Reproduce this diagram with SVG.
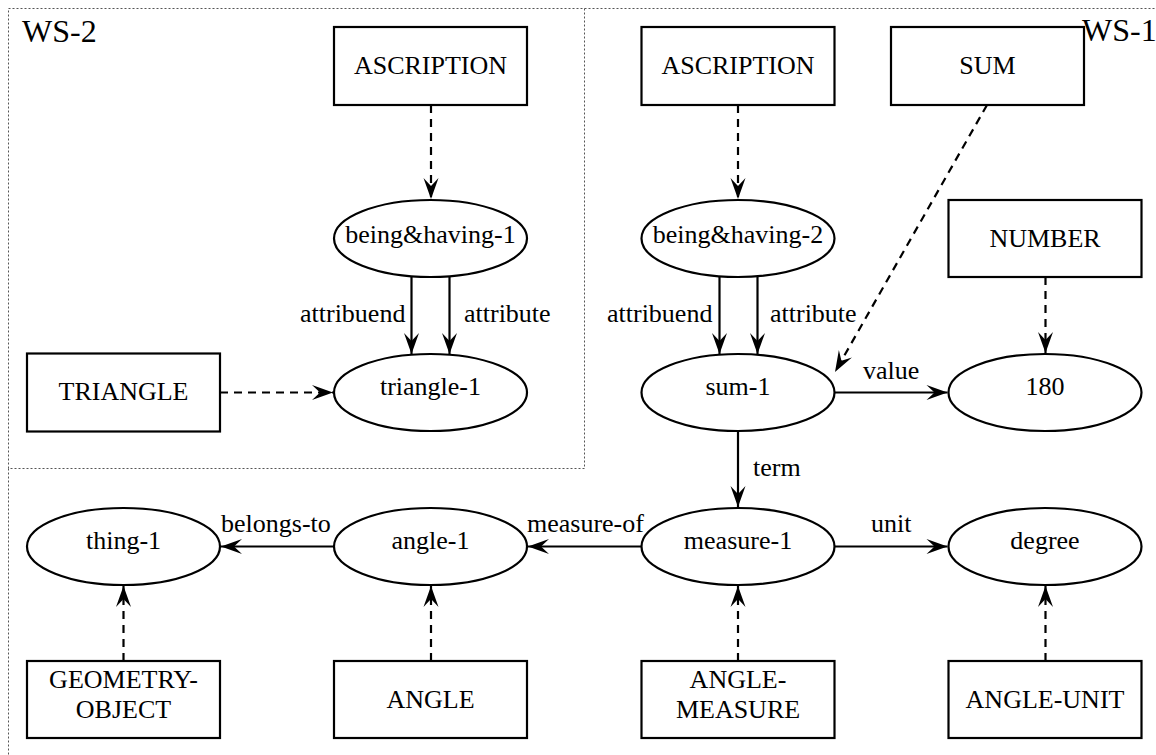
<svg xmlns="http://www.w3.org/2000/svg" width="1156" height="755" viewBox="0 0 1156 755">
<style>
text{font-family:"Liberation Serif","Times New Roman",serif;font-size:26px;fill:#000}
.c{text-anchor:middle}
.ws{font-size:32px}
.n{fill:#fff;stroke:#000;stroke-width:2.2}
.e{fill:none;stroke:#000;stroke-width:2.2}
.solid{marker-end:url(#ah)}
.dash{stroke-dasharray:8,6;marker-end:url(#ah)}
.frame{fill:none;stroke:#555;stroke-width:1;stroke-dasharray:2,2}
</style>
<defs>
<marker id="ah" viewBox="-22 -9 24 18" refX="0" refY="0" markerWidth="24" markerHeight="18" markerUnits="userSpaceOnUse" orient="auto">
<path d="M0,0 L-21,-7.5 L-13,0 L-21,7.5 Z" fill="#000"/>
</marker>
</defs>
<rect width="1156" height="755" fill="#fff"/>
<g id="frames">
<rect class="frame" x="8.5" y="8.5" width="576" height="460"/>
<path class="frame" d="M584.5,8.5 H1160 M8.5,468.5 V760"/>
<text class="ws" x="22" y="42">WS-2</text>
</g>
<g id="connectors">
<line class="e dash" x1="431" y1="105" x2="431" y2="199"/>
<line class="e solid" x1="411.5" y1="276" x2="411.5" y2="354"/>
<line class="e solid" x1="449.5" y1="276" x2="449.5" y2="354"/>
<line class="e dash" x1="220" y1="392.5" x2="333" y2="392.5"/>
<line class="e dash" x1="738" y1="105" x2="738" y2="199"/>
<line class="e solid" x1="719.5" y1="276" x2="719.5" y2="354"/>
<line class="e solid" x1="757.5" y1="276" x2="757.5" y2="354"/>
<line class="e dash" x1="987" y1="105" x2="835" y2="372"/>
<line class="e dash" x1="1045.5" y1="277" x2="1045.5" y2="353"/>
<line class="e solid" x1="834" y1="392.5" x2="947.5" y2="392.5"/>
<line class="e solid" x1="738" y1="431" x2="738" y2="507"/>
<line class="e solid" x1="641" y1="546.5" x2="528" y2="546.5"/>
<line class="e solid" x1="334" y1="546.5" x2="221" y2="546.5"/>
<line class="e solid" x1="834" y1="546.5" x2="947.5" y2="546.5"/>
<line class="e dash" x1="123.5" y1="661" x2="123.5" y2="586"/>
<line class="e dash" x1="431" y1="661" x2="431" y2="586"/>
<line class="e dash" x1="738" y1="661" x2="738" y2="586"/>
<line class="e dash" x1="1045.5" y1="661" x2="1045.5" y2="586"/>
<text x="300" y="322">attribuend</text>
<text x="464" y="322">attribute</text>
<text x="607" y="322">attribuend</text>
<text x="770" y="322">attribute</text>
<text x="863" y="379">value</text>
<text x="753" y="476">term</text>
<text x="221" y="532">belongs-to</text>
<text x="527" y="532">measure-of</text>
<text x="871" y="532">unit</text>
</g>
<g id="ascription-2"><rect class="n" x="334" y="27" width="193" height="78"/><text class="c" x="430.5" y="74">ASCRIPTION</text></g>
<g id="being-having-1"><ellipse class="n" cx="430.5" cy="238.5" rx="96.5" ry="38.5"/><text class="c" x="430.5" y="243">being&amp;having-1</text></g>
<g id="triangle-1"><ellipse class="n" cx="430.5" cy="392.5" rx="96.5" ry="38.5"/><text class="c" x="430.5" y="395">triangle-1</text></g>
<g id="TRIANGLE"><rect class="n" x="27" y="353.5" width="193" height="78"/><text class="c" x="123.5" y="400">TRIANGLE</text></g>
<g id="ascription-1"><rect class="n" x="641.5" y="27" width="193" height="78"/><text class="c" x="738" y="74">ASCRIPTION</text></g>
<g id="SUM"><rect class="n" x="891" y="27" width="193" height="78"/><text class="c" x="987.5" y="74">SUM</text></g>
<g id="being-having-2"><ellipse class="n" cx="738" cy="238.5" rx="96.5" ry="38.5"/><text class="c" x="738" y="243">being&amp;having-2</text></g>
<g id="NUMBER"><rect class="n" x="948.5" y="200" width="193" height="77"/><text class="c" x="1045" y="247">NUMBER</text></g>
<g id="sum-1"><ellipse class="n" cx="738" cy="392.5" rx="96.5" ry="38.5"/><text class="c" x="738" y="395">sum-1</text></g>
<g id="n180"><ellipse class="n" cx="1045" cy="392.5" rx="96.5" ry="38.5"/><text class="c" x="1045" y="395">180</text></g>
<g id="thing-1"><ellipse class="n" cx="123.5" cy="546.5" rx="96.5" ry="38.5"/><text class="c" x="123.5" y="549">thing-1</text></g>
<g id="angle-1"><ellipse class="n" cx="430.5" cy="546.5" rx="96.5" ry="38.5"/><text class="c" x="430.5" y="549">angle-1</text></g>
<g id="measure-1"><ellipse class="n" cx="738" cy="546.5" rx="96.5" ry="38.5"/><text class="c" x="738" y="549">measure-1</text></g>
<g id="degree"><ellipse class="n" cx="1045" cy="546.5" rx="96.5" ry="38.5"/><text class="c" x="1045" y="549">degree</text></g>
<g id="GEOMETRY-OBJECT"><rect class="n" x="27" y="661" width="193" height="77"/><text class="c" x="123.5" y="688">GEOMETRY-</text><text class="c" x="123.5" y="718">OBJECT</text></g>
<g id="ANGLE"><rect class="n" x="334" y="661" width="193" height="77"/><text class="c" x="430.5" y="708">ANGLE</text></g>
<g id="ANGLE-MEASURE"><rect class="n" x="641.5" y="661" width="193" height="77"/><text class="c" x="738" y="688">ANGLE-</text><text class="c" x="738" y="718">MEASURE</text></g>
<g id="ANGLE-UNIT"><rect class="n" x="948.5" y="661" width="193" height="77"/><text class="c" x="1045" y="708">ANGLE-UNIT</text></g>
<text class="ws" x="1082" y="41">WS-1</text>
</svg>
